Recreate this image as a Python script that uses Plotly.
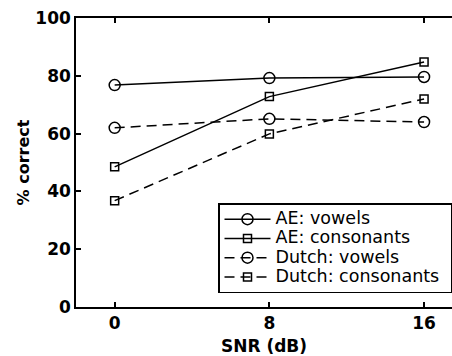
import plotly.graph_objects as go

snr = [0, 8, 16]
ae_vowels = [76.8, 79.2, 79.6]
ae_consonants = [48.5, 72.8, 84.8]
dutch_vowels = [62.0, 65.1, 64.0]
dutch_consonants = [36.8, 59.9, 72.0]
names = ["AE: vowels", "AE: consonants", "Dutch: vowels", "Dutch: consonants"]

series = [
    (ae_vowels, "circle-open", "solid", 11),
    (ae_consonants, "square-open", "solid", 8),
    (dutch_vowels, "circle-open", "10px,6px", 11),
    (dutch_consonants, "square-open", "10px,6px", 8),
]

fig = go.Figure()
for name, (vals, sym, dash, size) in zip(names, series):
    fig.add_trace(go.Scatter(
        x=snr, y=vals,
        name="<span style='font-size:17.5px'>" + name + "&nbsp;</span>",
        mode="lines+markers",
        line=dict(color="black", width=1.5, dash=dash),
        marker=dict(symbol=sym, size=size, color="black", line=dict(width=1.5, color="black")),
    ))

font_b = dict(family="DejaVu Sans", size=17, color="black", weight="bold")

fig.update_layout(
    width=452, height=356,
    margin=dict(l=76, r=0, t=18, b=49, autoexpand=False),
    paper_bgcolor="white", plot_bgcolor="white",
    showlegend=True,
    legend=dict(
        x=(218 - 76) / 376, y=(307 - 203) / 289, xanchor="left", yanchor="top",
        bordercolor="black", borderwidth=1.5, bgcolor="white",
        font=dict(family="DejaVu Sans", size=12.5, color="black"),
        tracegroupgap=0, itemwidth=46,
    ),
)
fig.update_xaxes(
    range=[-2, 17.445], tickvals=snr, ticktext=[str(v) for v in snr],
    ticks="inside", ticklen=5, tickwidth=1.5, tickcolor="black",
    showline=True, linecolor="black", linewidth=1.5, mirror="ticks",
    showgrid=False, zeroline=False, tickfont=font_b,
    title=dict(text="SNR (dB)", font=font_b, standoff=12),
)
fig.update_yaxes(
    range=[0, 100], tickvals=[0, 20, 40, 60, 80, 100],
    ticks="inside", ticklen=5, tickwidth=1.5, tickcolor="black",
    showline=True, linecolor="black", linewidth=1.5, mirror=False,
    showgrid=False, zeroline=False, tickfont=font_b,
    title=dict(text="% correct", font=dict(family="DejaVu Sans", size=16, color="black", weight="bold"), standoff=2),
)

fig.write_html("out.html")
